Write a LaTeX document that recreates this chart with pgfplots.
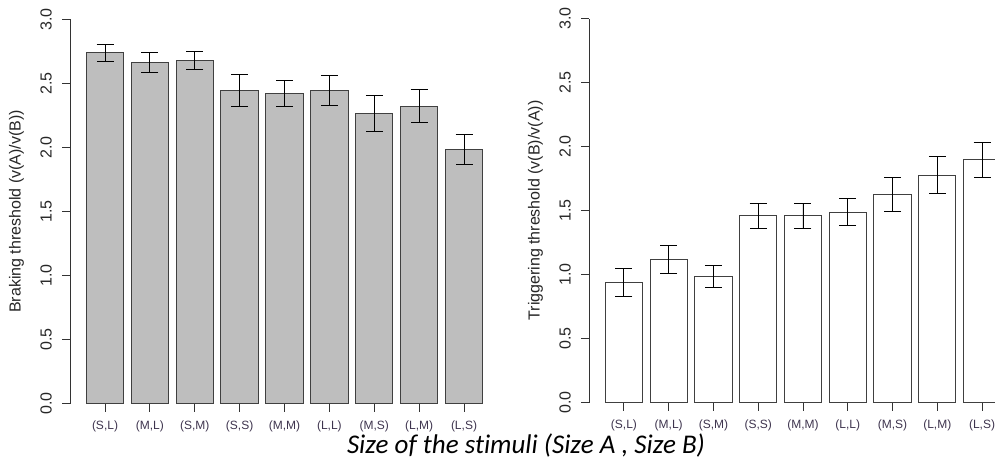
\documentclass[border=0pt]{standalone}
\usepackage{pgfplots}
\pgfplotsset{compat=1.18}
\usepackage{fontspec}
\setmainfont{Liberation Sans}
\newfontfamily\xlabfont[Ligatures={NoCommon}]{Carlito}
\definecolor{ticklab}{RGB}{62,52,78}
\definecolor{barfill}{RGB}{190,190,190}

\pgfplotsset{
  rplot/.style={
    scale only axis,
    height=384pt,
    ymin=0, ymax=3,
    ytick={0,0.5,...,3},
    yticklabel style={/pgf/number format/fixed, /pgf/number format/fixed zerofill, /pgf/number format/precision=1, /pgf/number format/assume math mode=true},
    axis y line*=left,
    axis x line*=bottom,
    x axis line style={draw=none},
    y axis line style={line width=0.9pt, black!80},
    tick align=outside,
    major tick length=8pt,
    tick style={line width=0.9pt, black!80},
    xtick={0,...,8},
    xticklabels={(S,L),(M,L),(S,M),(S,S),(M,M),(L,L),(M,S),(L,M),(L,S)},
    x tick label style={font=\fontsize{12}{14}\selectfont, text=ticklab, yshift=-6pt},
    y tick label style={font=\fontsize{16}{18}\selectfont, text=black!85, rotate=90, anchor=south, inner sep=0pt},
    yticklabel shift={10pt},
    ylabel style={font=\fontsize{16}{18}\selectfont, text=black!85},
    ylabel shift={13pt},
    ybar,
    bar width=0.833,
    xmin=-0.78,
    clip=true,
    error bars/y dir=both,
    error bars/y explicit,
    error bars/error bar style={line width=0.9pt, black},
    error bars/error mark options={rotate=90, mark size=8.5pt, line width=0.9pt, black},
  }
}

\begin{document}
\begin{tikzpicture}
\path[use as bounding box] (0,0) rectangle (995pt,459pt);

\begin{axis}[rplot,
  at={(70pt,55.5pt)}, anchor=south west,
  width=429pt, xmax=8.78,
  ylabel={Braking threshold (v(A)/v(B))},
]
\addplot[fill=barfill, draw=black!75, line width=0.9pt]
  coordinates {
    (0,2.742) +- (0,0.066)
    (1,2.667) +- (0,0.079)
    (2,2.683) +- (0,0.070)
    (3,2.448) +- (0,0.126)
    (4,2.422) +- (0,0.105)
    (5,2.443) +- (0,0.118)
    (6,2.266) +- (0,0.137)
    (7,2.321) +- (0,0.129)
    (8,1.985) +- (0,0.120)
  };
\end{axis}

\begin{axis}[rplot,
  at={(589pt,56.5pt)}, anchor=south west,
  width=406pt, xmax=8.29,
  ylabel={Triggering threshold (v(B)/v(A))},
]
\addplot[fill=white, draw=black!75, line width=0.9pt]
  coordinates {
    (0,0.939) +- (0,0.108)
    (1,1.119) +- (0,0.110)
    (2,0.981) +- (0,0.086)
    (3,1.458) +- (0,0.100)
    (4,1.458) +- (0,0.097)
    (5,1.487) +- (0,0.107)
    (6,1.625) +- (0,0.130)
    (7,1.776) +- (0,0.146)
    (8,1.896) +- (0,0.139)
  };
\end{axis}

\node[font=\xlabfont\itshape\fontsize{27}{29}\selectfont, anchor=base, inner sep=0pt] at (526pt,6pt)
  {Size of the stimuli (Size A , Size B)};
\end{tikzpicture}
\end{document}
